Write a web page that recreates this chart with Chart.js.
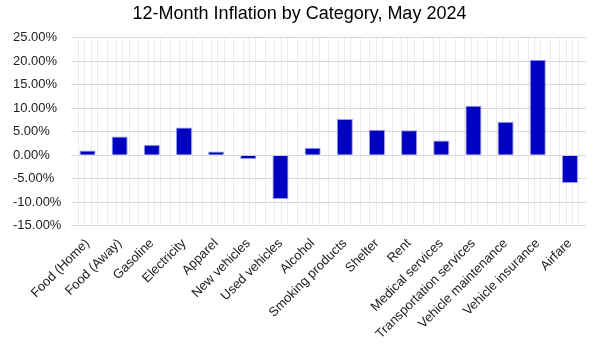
<!DOCTYPE html>
<html>
<head>
  <title>12-Month Inflation by Category</title>
  <script src="https://cdn.jsdelivr.net/npm/chart.js"></script>
  <style>
    html, body { margin: 0; padding: 0; background: #fff; }
    #wrap { width: 600px; height: 348px; }
  </style>
</head>
<body>
  <div id="wrap"><canvas id="chart"></canvas></div>

  <script>
    const categories = ['Food (Home)', 'Food (Away)', 'Gasoline', 'Electricity', 'Apparel',
      'New vehicles', 'Used vehicles', 'Alcohol', 'Smoking products', 'Shelter', 'Rent',
      'Medical services', 'Transportation services', 'Vehicle maintenance',
      'Vehicle insurance', 'Airfare'];
    const inflation = [1.0, 4.0, 2.2, 5.9, 0.8, -0.8, -9.3, 1.6, 7.7, 5.4, 5.3, 3.1, 10.5, 7.1, 20.3, -5.9];
    const yTicks = [-15, -10, -5, 0, 5, 10, 15, 20, 25];
    const minorOffsets = [-0.3, -0.1, 0.1, 0.3];

    Chart.defaults.font.family = 'Arial, "Liberation Sans", sans-serif';
    Chart.defaults.color = '#222';

    const ctx = document.getElementById('chart').getContext('2d');

    const chart = new Chart(ctx, {
      type: 'bar',
      data: {
        labels: categories,
        datasets: [{
          label: '12-month change',
          data: inflation,
          backgroundColor: '#0000c0',
          borderColor: 'rgba(110,110,255,0.7)',
          borderWidth: 1,
          barPercentage: 0.5,
          categoryPercentage: 1
        }]
      },
      options: {
        responsive: true,
        maintainAspectRatio: false,
        animation: false,
        layout: { padding: { left: 13, right: 14, top: 0, bottom: 4 } },
        plugins: {
          legend: { display: false },
          tooltip: { enabled: false },
          title: {
            display: true,
            text: '12-Month Inflation by Category, May 2024',
            color: '#000',
            font: { size: 18, weight: 'normal' },
            padding: { top: 3, bottom: 13 }
          }
        },
        scales: {
          x: {
            grid: { display: false },
            border: { display: false },
            ticks: {
              font: { size: 13 },
              color: '#222',
              maxRotation: 45,
              minRotation: 45,
              autoSkip: false,
              padding: 2
            }
          },
          xm: {
            type: 'linear',
            position: 'top',
            min: -0.5,
            max: categories.length - 0.5,
            afterBuildTicks: (axis) => {
              const t = [];
              categories.forEach((c, i) => minorOffsets.forEach(o => t.push({ value: i + o })));
              axis.ticks = t;
            },
            ticks: { display: false },
            grid: { color: '#ececec', drawTicks: false },
            border: { display: false }
          },
          y: {
            min: -15,
            max: 25,
            afterBuildTicks: (axis) => { axis.ticks = yTicks.map(v => ({ value: v })); },
            grid: { color: '#d9d9d9', drawTicks: false },
            border: { display: false },
            ticks: {
              font: { size: 13 },
              color: '#222',
              crossAlign: 'far',
              padding: 5,
              callback: (v) => v.toFixed(2) + '%'
            }
          }
        }
      }
    });
  </script>
</body>
</html>
